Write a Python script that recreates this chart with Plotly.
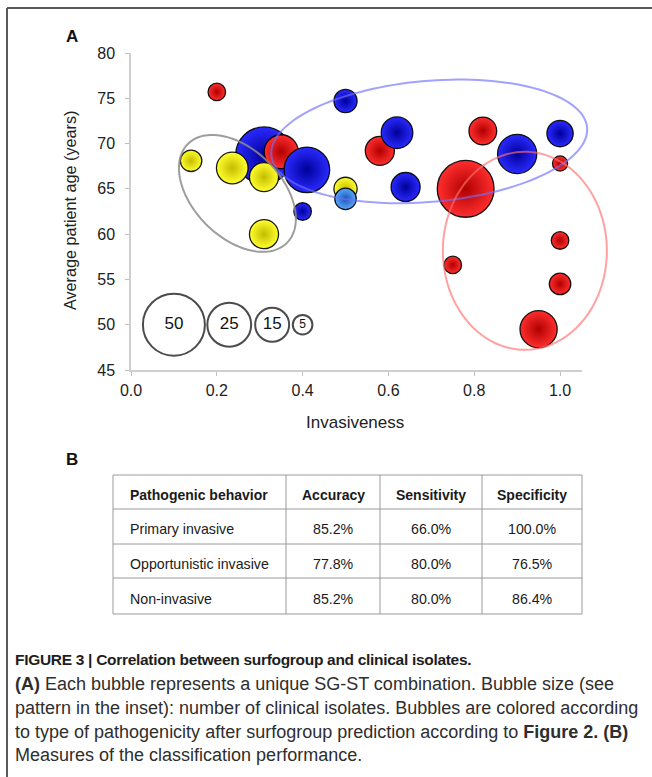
import numpy as np
import plotly.graph_objects as go

# ---------------- data ----------------
invasiveness = [0.31, 0.236, 0.35, 0.31, 0.41, 0.14, 0.20, 0.40, 0.31, 0.50, 0.50, 0.50,
                0.58, 0.62, 0.64, 0.82, 0.78, 0.90, 1.00, 1.00, 1.00, 0.75, 1.00, 0.95]
patient_age = [68.7, 67.3, 69.1, 66.3, 67.1, 68.1, 75.7, 62.5, 60.0, 74.7, 65.0, 63.9,
               69.2, 71.2, 65.2, 71.4, 65.0, 68.85, 71.1, 67.8, 59.3, 56.6, 54.5, 49.5]
isolates = [42, 13, 15, 11, 27, 6, 4, 4, 11, 7, 7, 6,
            11, 13, 11, 10, 42, 20, 9, 3, 4, 4, 6, 18]
group = ["blue", "yellow", "red", "yellow", "blue", "yellow", "red", "blue", "yellow", "blue", "yellow", "lightblue",
         "red", "blue", "blue", "red", "red", "blue", "blue", "red", "red", "red", "red", "red"]

size_legend_values = [50, 25, 15, 5]
size_legend_x = [0.10, 0.229, 0.329, 0.40]
size_legend_y = [50, 50, 50, 50]

x_ticks = [0.0, 0.2, 0.4, 0.6, 0.8, 1.0]
y_ticks = [45, 50, 55, 60, 65, 70, 75, 80]

table_header = ["Pathogenic behavior", "Accuracy", "Sensitivity", "Specificity"]
behaviors = ["Primary invasive", "Opportunistic invasive", "Non-invasive"]
accuracy = [85.2, 77.8, 85.2]
sensitivity = [66.0, 80.0, 80.0]
specificity = [100.0, 76.5, 86.4]

caption_lines = [
    "<b>FIGURE 3 | Correlation between surfogroup and clinical isolates.</b>",
    "<b>(A)</b> Each bubble represents a unique SG-ST combination. Bubble size (see",
    "pattern in the inset): number of clinical isolates. Bubbles are colored according",
    "to type of pathogenicity after surfogroup prediction according to <b>Figure 2. (B)</b>",
    "Measures of the classification performance.",
]

# ---------------- styling ----------------
W, H = 652, 777
center_col = {"red": "#ff2e2e", "blue": "#2a2aff", "yellow": "#ffff2e", "lightblue": "#5aa8ff"}
edge_col = {"red": "#b00000", "blue": "#00009a", "yellow": "#c4bc00", "lightblue": "#1a55b0"}

# plot area in pixels
X0, X1 = 131, 581.5
Y0, Y1 = 53, 370
XR = [0, 1.05]
YR = [45, 80]
sx = (X1 - X0) / (XR[1] - XR[0])
sy = (Y1 - Y0) / (YR[1] - YR[0])


def px(x):
    return x / W


def py(y):
    return 1 - y / H


SIZEREF = 2 * 50 / 62 ** 2

fig = go.Figure()

fig.add_trace(go.Scatter(
    x=invasiveness, y=patient_age, mode="markers",
    marker=dict(
        size=isolates, sizemode="area", sizeref=SIZEREF,
        color=[center_col[g] for g in group],
        gradient=dict(type="radial", color=[edge_col[g] for g in group]),
        line=dict(color="rgba(0,0,0,0.9)", width=1.3),
        opacity=1,
    ),
    hoverinfo="skip", showlegend=False,
))

fig.add_trace(go.Scatter(
    x=size_legend_x, y=size_legend_y, mode="markers+text",
    text=[str(v) for v in size_legend_values],
    textposition="middle center",
    textfont=dict(family="Arial", size=[17, 17, 17, 12], color="#111"),
    marker=dict(size=size_legend_values, sizemode="area", sizeref=SIZEREF,
                color="rgba(255,255,255,0)", line=dict(color="black", width=2)),
    hoverinfo="skip", showlegend=False,
))


# ---------------- ellipses (group outlines), drawn in paper space so they are not clipped ----------------
def ellipse_path(cx, cy, a_px, b_px, theta_deg, n=140):
    th = np.deg2rad(theta_deg)
    t = np.linspace(0, 2 * np.pi, n)
    cxp = X0 + (cx - XR[0]) * sx
    cyp = Y1 - (cy - YR[0]) * sy
    dx = a_px * np.cos(th) * np.cos(t) - b_px * np.sin(th) * np.sin(t)
    dy = a_px * np.sin(th) * np.cos(t) + b_px * np.cos(th) * np.sin(t)
    xs = (cxp + dx) / W
    ys = 1 - (cyp + dy) / H
    pts = [f"{xv:.5f},{yv:.5f}" for xv, yv in zip(xs, ys)]
    return "M " + " L ".join(pts) + " Z"


ellipses = [
    (0.248, 64.5, 70, 44, 45, "rgba(140,140,140,0.85)"),
    (0.695, 70.24, 158.5, 60.5, -5, "rgba(110,110,255,0.65)"),
    (0.918, 58.16, 82, 99, 0, "rgba(255,110,110,0.65)"),
]
shapes = []
for cx, cy, a, b, th, col in ellipses:
    shapes.append(dict(type="path", xref="paper", yref="paper", path=ellipse_path(cx, cy, a, b, th),
                       line=dict(color=col, width=2), layer="above"))

# frame (left + top)
shapes.append(dict(type="line", xref="paper", yref="paper", x0=px(7), x1=px(7), y0=py(8), y1=py(777),
                   line=dict(color="#5a5a5a", width=2)))
shapes.append(dict(type="line", xref="paper", yref="paper", x0=px(7), x1=px(652), y0=py(8), y1=py(8),
                   line=dict(color="#5a5a5a", width=2)))

# ---------------- table ----------------
col_edges = [113, 286, 380, 482, 582]
row_edges = [475, 509, 544, 578, 614]
tcol = "#9a9a9a"
for xe in col_edges:
    shapes.append(dict(type="line", xref="paper", yref="paper", x0=px(xe), x1=px(xe),
                       y0=py(row_edges[0]), y1=py(row_edges[-1]), line=dict(color=tcol, width=1)))
for ye in row_edges:
    shapes.append(dict(type="line", xref="paper", yref="paper", x0=px(col_edges[0]), x1=px(col_edges[-1]),
                       y0=py(ye), y1=py(ye), line=dict(color=tcol, width=1)))

annotations = []
tfont = dict(family="Arial", size=14.2, color="#1a1a1a")
hfont = dict(family="Arial", size=14, color="#1a1a1a")
rows = [table_header] + [[b, f"{a:.1f}%", f"{s:.1f}%", f"{p:.1f}%"]
                          for b, a, s, p in zip(behaviors, accuracy, sensitivity, specificity)]
for r, row in enumerate(rows):
    yc = (row_edges[r] + row_edges[r + 1]) / 2 + 2.5
    f = hfont if r == 0 else tfont
    for c, txt in enumerate(row):
        label = f"<b>{txt}</b>" if r == 0 else txt
        if c == 0:
            annotations.append(dict(x=px(128), y=py(yc), xref="paper", yref="paper", text=label,
                                    showarrow=False, xanchor="left", yanchor="middle", font=f))
        else:
            xc = (col_edges[c] + col_edges[c + 1]) / 2
            annotations.append(dict(x=px(xc), y=py(yc), xref="paper", yref="paper", text=label,
                                    showarrow=False, xanchor="center", yanchor="middle", font=f))

# panel letters
annotations.append(dict(x=px(72), y=py(36), xref="paper", yref="paper", text="<b>A</b>", showarrow=False,
                        xanchor="center", yanchor="middle", font=dict(family="Arial", size=17, color="#111")))
annotations.append(dict(x=px(72), y=py(459), xref="paper", yref="paper", text="<b>B</b>", showarrow=False,
                        xanchor="center", yanchor="middle", font=dict(family="Arial", size=17, color="#111")))

# axis titles
annotations.append(dict(x=px(355), y=py(422), xref="paper", yref="paper", text="Invasiveness", showarrow=False,
                        xanchor="center", yanchor="middle", font=dict(family="Arial", size=17, color="#222")))
annotations.append(dict(x=px(70), y=py(211), xref="paper", yref="paper", text="Average patient age (years)",
                        showarrow=False, textangle=-90, xanchor="center", yanchor="middle",
                        font=dict(family="Arial", size=16.2, color="#222")))

# caption
cap_y = [659, 684, 708, 732, 755]
for i, (txt, yv) in enumerate(zip(caption_lines, cap_y)):
    if i == 0:
        txt = '<span style="letter-spacing:-0.3px">' + txt + '</span>'
        f = dict(family="Arial", size=15.5, color="#1e1e1e")
    else:
        f = dict(family="Arial", size=18, color="#2e2e2e")
    annotations.append(dict(x=px(13), y=py(yv), xref="paper", yref="paper", text=txt, showarrow=False,
                            xanchor="left", yanchor="middle", font=f))

axis_common = dict(showgrid=False, zeroline=False, showline=True, linecolor="#cfcfcf", linewidth=1.5,
                   ticks="outside", ticklen=4, tickcolor="#c0c0c0", tickwidth=1.2,
                   tickfont=dict(family="Arial", size=16, color="#222"), automargin=False)

fig.update_layout(
    width=W, height=H,
    margin=dict(l=0, r=0, t=0, b=0),
    paper_bgcolor="white", plot_bgcolor="white",
    xaxis=dict(domain=[px(X0), px(X1)], range=XR, tickvals=x_ticks, tickformat=".1f",
               ticklabelstandoff=1, **axis_common),
    yaxis=dict(domain=[py(Y1), py(Y0)], range=YR, tickvals=y_ticks, ticklabelstandoff=7, **axis_common),
    shapes=shapes, annotations=annotations, showlegend=False,
)

fig.write_html("out.html", config={"displayModeBar": False},
               post_script="document.body.style.margin='0';")
